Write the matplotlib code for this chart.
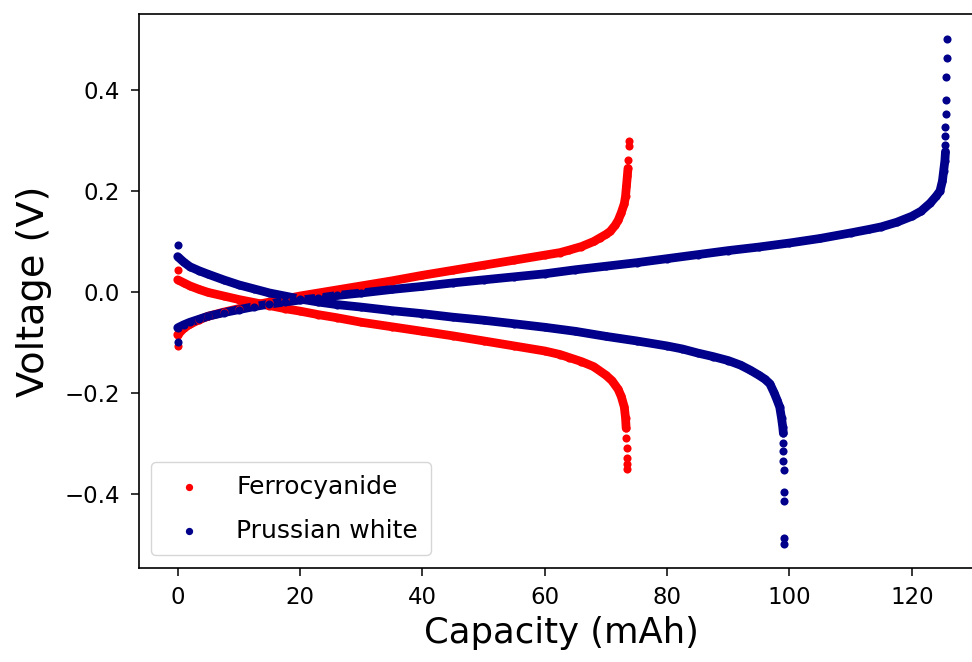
# 充放电曲线绘图
import matplotlib
matplotlib.use('Agg')
import matplotlib.pyplot as plt

# 亚铁氰化物 充电曲线（连续部分）
fc_charge_cap = [0, 1, 2, 3.5, 5, 7.5, 10, 12.5, 15, 17.5, 20, 23, 26, 30, 35, 40, 45, 50, 55, 60,
                 62.5, 64, 66, 68, 69, 70, 70.7, 71.5, 72, 72.5, 73, 73.2, 73.35, 73.5, 73.6]
fc_charge_v = [-0.085, -0.072, -0.064, -0.055, -0.048, -0.04, -0.033, -0.026, -0.02, -0.014, -0.008,
               -0.002, 0.004, 0.012, 0.022, 0.033, 0.043, 0.053, 0.063, 0.073,
               0.078, 0.083, 0.09, 0.1, 0.107, 0.114, 0.12, 0.132, 0.142, 0.157, 0.175, 0.19, 0.21, 0.23, 0.245]
# 稀疏的端点
fc_charge_dot_cap = [0, 73.65, 73.7, 73.7]
fc_charge_dot_v = [-0.107, 0.262, 0.29, 0.30]

# 亚铁氰化物 放电曲线
fc_dis_cap = [0, 1, 2, 3.5, 5, 7.5, 10, 12.5, 15, 17.5, 20, 23, 26, 30, 35, 40, 45, 50, 55, 60,
              62.5, 64, 66, 68, 70, 71, 72, 72.5, 73, 73.2, 73.3]
fc_dis_v = [0.024, 0.018, 0.012, 0.005, -0.001, -0.008, -0.015, -0.021, -0.027, -0.033, -0.038,
            -0.045, -0.051, -0.06, -0.069, -0.078, -0.087, -0.097, -0.107, -0.117,
            -0.124, -0.13, -0.138, -0.148, -0.165, -0.176, -0.193, -0.207, -0.228, -0.25, -0.27]
fc_dis_dot_cap = [0, 73.35, 73.4, 73.4, 73.4, 73.4]
fc_dis_dot_v = [0.044, -0.29, -0.31, -0.33, -0.34, -0.35]

# 普鲁士白 充电曲线
pw_charge_cap = [0, 1, 2, 3.5, 5, 7.5, 10, 12.5, 15, 17.5, 20, 23, 26, 30, 35, 40, 45, 50, 55, 60,
                 65, 70, 75, 80, 85, 90, 95, 100, 105, 110, 113, 115, 117.5, 120, 121.5, 123, 124,
                 124.6, 125, 125.2, 125.4, 125.5]
pw_charge_v = [-0.071, -0.065, -0.06, -0.054, -0.048, -0.041, -0.035, -0.029, -0.024, -0.02, -0.016,
               -0.012, -0.007, -0.002, 0.005, 0.011, 0.018, 0.024, 0.03, 0.036,
               0.044, 0.051, 0.058, 0.066, 0.074, 0.082, 0.089, 0.097, 0.106, 0.117, 0.124, 0.129,
               0.138, 0.15, 0.16, 0.176, 0.19, 0.2, 0.22, 0.24, 0.26, 0.278]
pw_charge_dot_cap = [0, 125.5, 125.5, 125.5, 125.6, 125.6, 125.6, 125.7, 125.7]
pw_charge_dot_v = [-0.099, 0.291, 0.309, 0.327, 0.352, 0.381, 0.426, 0.463, 0.502]

# 普鲁士白 放电曲线
pw_dis_cap = [0, 1, 2, 3.5, 5, 7.5, 10, 12.5, 15, 17.5, 20, 23, 26, 30, 35, 40, 45, 50, 55, 60,
              65, 70, 75, 80, 82.5, 85, 87.5, 90, 92, 93.6, 95, 96, 96.8, 97.5, 98, 98.4, 98.7, 98.9, 99]
pw_dis_v = [0.07, 0.059, 0.05, 0.042, 0.035, 0.024, 0.014, 0.006, -0.002, -0.008, -0.014,
            -0.02, -0.025, -0.03, -0.037, -0.043, -0.05, -0.056, -0.063, -0.07,
            -0.078, -0.088, -0.097, -0.107, -0.113, -0.121, -0.128, -0.136, -0.145, -0.155,
            -0.165, -0.173, -0.182, -0.2, -0.215, -0.228, -0.25, -0.268, -0.28]
pw_dis_dot_cap = [0, 98.9, 99, 99, 99.1, 99.1, 99.1, 99.1, 99.1]
pw_dis_dot_v = [0.093, -0.30, -0.315, -0.335, -0.352, -0.396, -0.415, -0.487, -0.5]

FC_COLOR = '#ff0000'
PW_COLOR = '#00008b'
DOT_SIZE = 34
LINE_W = 6.3


def draw_curve(ax, cap, v, dot_cap, dot_v, color, label=None):
    """连续部分用粗线+散点，端点单独散点"""
    ax.plot(cap, v, color=color, lw=LINE_W, solid_capstyle='round', zorder=2)
    ax.scatter(cap, v, s=DOT_SIZE, color=color, linewidths=0, zorder=3, label=label)
    ax.scatter(dot_cap, dot_v, s=DOT_SIZE, color=color, linewidths=0, zorder=3)


def main():
    fig = plt.figure(figsize=(9.72, 6.62), dpi=100)
    ax = fig.add_axes([0.143, 0.142, 0.870, 0.837])

    draw_curve(ax, fc_charge_cap, fc_charge_v, fc_charge_dot_cap, fc_charge_dot_v, FC_COLOR, 'Ferrocyanide')
    draw_curve(ax, fc_dis_cap, fc_dis_v, fc_dis_dot_cap, fc_dis_dot_v, FC_COLOR)
    draw_curve(ax, pw_charge_cap, pw_charge_v, pw_charge_dot_cap, pw_charge_dot_v, PW_COLOR, 'Prussian white')
    draw_curve(ax, pw_dis_cap, pw_dis_v, pw_dis_dot_cap, pw_dis_dot_v, PW_COLOR)

    ax.set_xlim(-6.33, 131.9)
    ax.set_ylim(-0.547, 0.551)
    ax.set_xticks([0, 20, 40, 60, 80, 100, 120])
    ax.set_yticks([-0.4, -0.2, 0.0, 0.2, 0.4])

    ax.set_xlabel('Capacity (mAh)', fontsize=25.5, labelpad=5)
    ax.set_ylabel('Voltage (V)', fontsize=27.5, labelpad=9)
    ax.tick_params(labelsize=16.5, length=6, width=1.1)
    ax.tick_params(axis='x', pad=7)
    ax.tick_params(axis='y', pad=7.5)
    for sp in ax.spines.values():
        sp.set_linewidth(1.2)
    ax.spines['right'].set_visible(False)

    ax.legend(loc='lower left', fontsize=18, markerscale=0.9, handlelength=2.0,
              handletextpad=0.9, labelspacing=0.8, borderpad=0.5)

    fig.savefig('out.png', dpi=100)


if __name__ == '__main__':
    main()
